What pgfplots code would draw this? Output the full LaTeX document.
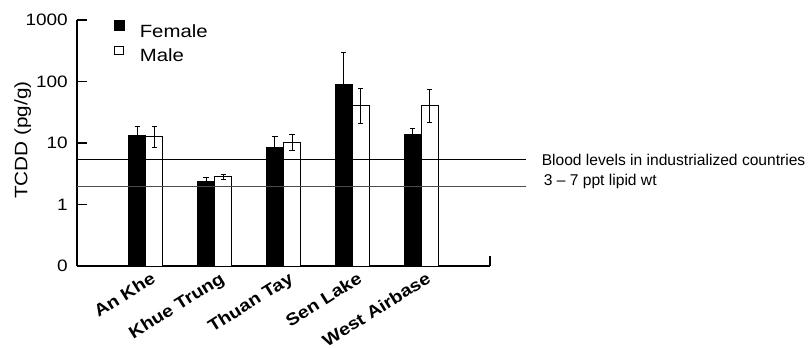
\documentclass[border=0pt]{standalone}
\usepackage{fontspec}
\setmainfont{Liberation Sans}
\newfontfamily\widefont[FakeStretch=1.15]{Liberation Sans}
\newfontfamily\wideboldfont[FakeStretch=1.15]{Liberation Sans Bold}
\usepackage{pgfplots}
\pgfplotsset{compat=1.18}
\usepackage{pgfplotstable}

% x = category, xe = position of the error bar (centre of the bar)
\pgfplotstableread{
x xe y ep em
0 -0.124 13.1 5.3 0
1 0.876 2.39 0.35 0
2 1.876 8.39 4.41 0
3 2.876 89 205 0
4 3.876 13.8 3.6 0
}\female
\pgfplotstableread{
x xe y ep em
0 0.124 12.6 6.2 4.2
1 1.124 2.84 0.29 0.27
2 2.124 10.1 3.5 2.6
3 3.124 40.2 37.4 19.6
4 4.124 40.2 32.8 18.6
}\male

\begin{document}
\begin{tikzpicture}
\useasboundingbox (-77bp,-83bp) rectangle (731bp,266bp);
\begin{axis}[
  at={(0,0)}, anchor=south west,
  scale only axis, width=413bp, height=246bp,
  ymode=log, ymin=0.1, ymax=1000, log origin=infty,
  xmin=-1, xmax=5,
  axis lines*=left,
  axis line style={line width=1.1bp},
  ytick={0.1,1,10,100,1000}, yticklabels={0,1,10,100,1000},
  yminorticks=false,
  tick align=inside,
  major tick length=10bp,
  ytick style={line width=1.1bp, black},
  xtick={0,...,4},
  xticklabels={An Khe\hspace{12bp}, Khue Trung, Thuan Tay, Sen Lake, West Airbase},
  xtick style={draw=none},
  yticklabel style={font=\widefont\fontsize{16.5bp}{18bp}\selectfont, inner sep=0pt, anchor=east, xshift=-9bp},
  xticklabel style={font=\wideboldfont\fontsize{17bp}{18bp}\selectfont, rotate=32, anchor=base east, inner sep=0pt, yshift=-19bp, xshift=1bp},
  ylabel={TCDD (pg/g)},
  ylabel style={font=\widefont\fontsize{18bp}{20bp}\selectfont, at={(axis description cs:-0.152,0.512)}, anchor=north, inner sep=0pt},
  clip=false,
  legend cell align=left,
  legend style={draw=none, fill=none, at={(axis description cs:0.0879,1.0)}, anchor=north west, inner sep=0pt, row sep=0pt, column sep=0pt, font=\widefont\fontsize{17.7bp}{20bp}\selectfont, nodes={inner sep=0pt, text height=14bp, text depth=8.3bp}},
]
\addlegendimage{legend image code/.code={\draw[black, fill=black, line width=0.6bp] (0bp,4bp) rectangle (10bp,14bp); \path[draw=none, fill=none] (0bp,0bp) rectangle (26bp,1bp);}}
\addlegendentry{Female}
\addlegendimage{legend image code/.code={\draw[black, fill=white, line width=0.6bp] (0.5bp,4.5bp) rectangle (9.5bp,13bp); \path[draw=none, fill=none] (0bp,0bp) rectangle (26bp,1bp);}}
\addlegendentry{Male}

\addplot[ybar, bar width=17bp, bar shift=-8.5bp, fill=black, draw=black, line width=0.8bp, forget plot]
  table[x=x, y=y] {\female};
\addplot[ybar, bar width=17bp, bar shift=8.5bp, fill=white, draw=black, line width=0.8bp, forget plot]
  table[x=x, y=y] {\male};

\addplot[draw=none, mark=none, forget plot,
  error bars/.cd, y dir=plus, y explicit, error bar style={line width=1bp, black},
  error mark options={rotate=90, mark size=2.7bp, line width=1bp, black}]
  table[x=xe, y=y, y error plus=ep, y error minus=em] {\female};
\addplot[draw=none, mark=none, forget plot,
  error bars/.cd, y dir=both, y explicit, error bar style={line width=1bp, black},
  error mark options={rotate=90, mark size=2.6bp, line width=1bp, black}]
  table[x=xe, y=y, y error plus=ep, y error minus=em] {\male};

\addplot[black, line width=0.9bp, forget plot] coordinates {(-1,5.48) (5.52,5.48)};
\addplot[black!70, line width=0.9bp, forget plot] coordinates {(-1,1.98) (5.52,1.98)};
\addplot[black, line width=1.1bp, forget plot] coordinates {(5,0.1) (5,0.145)};

\node[anchor=base west, inner sep=0pt, font=\fontsize{15.6bp}{17bp}\selectfont] at (axis cs:5.749,4.34) {Blood levels in industrialized countries};
\node[anchor=base west, inner sep=0pt, font=\fontsize{15.6bp}{17bp}\selectfont] at (axis cs:5.78,2.05) {3 -- 7 ppt lipid wt};
\end{axis}
\end{tikzpicture}
\end{document}
